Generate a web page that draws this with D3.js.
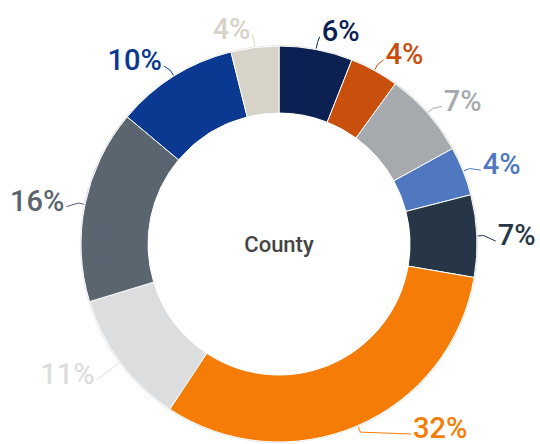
<!DOCTYPE html>
<html>
<head>
<meta charset="utf-8">
<script src="https://cdn.jsdelivr.net/npm/d3@7"></script>
<style>
  html, body { margin: 0; padding: 0; background: #fff; }
  svg { display: block; font-family: Roboto, "Noto Sans", sans-serif; }
</style>
</head>
<body>
<div id="chart"></div>
<script>
// slice data, clockwise from 12 o'clock
var segments = ["Seg 1", "Seg 2", "Seg 3", "Seg 4", "Seg 5", "Seg 6", "Seg 7", "Seg 8", "Seg 9", "Seg 10"];
var shares   = [6, 4, 7, 4, 6.7, 31.6, 11, 15.8, 10, 3.9];
var labels   = ["6%", "4%", "7%", "4%", "7%", "32%", "11%", "16%", "10%", "4%"];
var colors   = ["#0c2052", "#c94f0d", "#a6aaae", "#4f78c0", "#263646",
                "#f57d07", "#dcdddf", "#5a6570", "#0b3890", "#d8d3c8"];
var centerTitle = "County";

var width = 540, height = 444;
var cx = 279, cy = 244, outerR = 198, innerR = 131;

var data = segments.map(function(s, i) {
  return {name: s, v: shares[i], label: labels[i], color: colors[i]};
});

var svg = d3.select("#chart").append("svg")
  .attr("width", width)
  .attr("height", height);

var g = svg.append("g")
  .attr("transform", "translate(" + cx + "," + cy + ")");

var pie = d3.pie().sort(null).value(function(d) { return d.v; });
var arc = d3.arc().innerRadius(innerR).outerRadius(outerR);
var arcs = pie(data);

// faint rim like the original
g.append("circle")
  .attr("r", outerR + 0.5)
  .attr("fill", "none")
  .attr("stroke", "#e2e2e2")
  .attr("stroke-width", 1.2);

g.selectAll("path.slice")
  .data(arcs)
  .enter().append("path")
    .attr("class", "slice")
    .attr("d", arc)
    .attr("fill", function(d) { return d.data.color; })
    .attr("stroke", "#fff")
    .attr("stroke-width", 1);

// label placement: text side-middle on a ring just outside the donut
var labelR = outerR + 19, halfH = 10.5, clearR = outerR + 20;
function place(d) {
  var a = (d.startAngle + d.endAngle) / 2;
  var right = Math.sin(a) >= 0;
  var x = Math.sin(a) * labelR, y = -Math.cos(a) * labelR;
  if (cy + y > height - 16) y = height - 16 - cy;   // stay in picture
  // lower labels: slide sideways so the text top clears the ring
  if (y > 0) {
    var top = y - halfH;
    if (x * x + top * top < clearR * clearR) {
      x = (right ? 1 : -1) * Math.sqrt(clearR * clearR - top * top);
    }
  }
  return {a: a, right: right, x: x + (right ? 2 : -2), y: y};
}

var lab = g.selectAll("g.lab")
  .data(arcs)
  .enter().append("g")
    .attr("class", "lab");

lab.append("polyline")
  .attr("fill", "none")
  .attr("stroke", function(d) { return d.data.color; })
  .attr("stroke-width", 1)
  .attr("points", function(d) {
    var p = place(d);
    var p0 = [Math.sin(p.a) * (outerR + 1), -Math.cos(p.a) * (outerR + 1)];
    var p1 = [Math.sin(p.a) * (outerR + 7), -Math.cos(p.a) * (outerR + 7)];
    var p2 = [p.x + (p.right ? -2 : 2), p.y + 6];
    return [p0, p1, p2].join(" ");
  });

lab.append("text")
  .attr("x", function(d) { return place(d).x; })
  .attr("y", function(d) { return place(d).y; })
  .attr("dy", "0.35em")
  .attr("text-anchor", function(d) { return place(d).right ? "start" : "end"; })
  .attr("fill", function(d) { return d.data.color; })
  .attr("font-size", 29)
  .attr("font-weight", 500)
  .text(function(d) { return d.data.label; });

g.append("text")
  .attr("x", 0)
  .attr("y", 8)
  .attr("text-anchor", "middle")
  .attr("fill", "#444")
  .attr("font-size", 22)
  .attr("font-weight", 500)
  .text(centerTitle);
</script>
</body>
</html>
